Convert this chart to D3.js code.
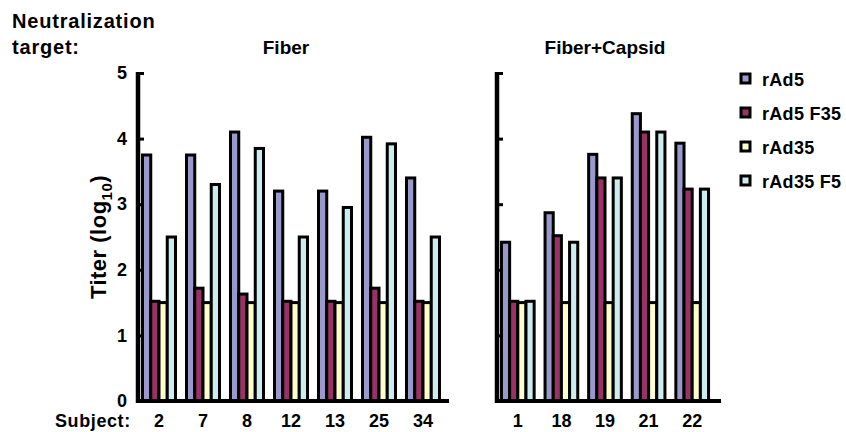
<!DOCTYPE html>
<html>
<head>
<meta charset="utf-8">
<script src="https://cdn.jsdelivr.net/npm/d3@7"></script>
<style>
  body { margin: 0; background: #fff; }
  text { font-family: "Liberation Sans", Arial, sans-serif; font-weight: bold; fill: #000; }
</style>
</head>
<body>
<div id="chart"></div>
<script>
// Neutralizing titers per subject, two panels (Fiber / Fiber+Capsid)

const seriesNames = ["rAd5", "rAd5 F35", "rAd35", "rAd35 F5"];
const seriesColors = ["#9999cc", "#993366", "#ffffcc", "#ccecf0"];

const fiberSubjects = ["2", "7", "8", "12", "13", "25", "34"];
const fiberRAd5    = [3.75, 3.75, 4.1, 3.2, 3.2, 4.02, 3.4];
const fiberRAd5F35 = [1.52, 1.72, 1.63, 1.52, 1.52, 1.72, 1.52];
const fiberRAd35   = [1.5, 1.5, 1.5, 1.5, 1.5, 1.5, 1.5];
const fiberRAd35F5 = [2.5, 3.3, 3.85, 2.5, 2.95, 3.92, 2.5];

const capsidSubjects = ["1", "18", "19", "21", "22"];
const capsidRAd5    = [2.42, 2.87, 3.76, 4.38, 3.93];
const capsidRAd5F35 = [1.52, 2.52, 3.4, 4.1, 3.23];
const capsidRAd35   = [1.5, 1.5, 1.5, 1.5, 1.5];
const capsidRAd35F5 = [1.52, 2.42, 3.4, 4.1, 3.23];

const yTicks = [0, 1, 2, 3, 4, 5];

const W = 846, H = 432;
const svg = d3.select("#chart").append("svg")
  .attr("width", W).attr("height", H);

const y = d3.scaleLinear().domain([0, 5]).range([401, 73]);

const color = d3.scaleOrdinal().domain(seriesNames).range(seriesColors);

function panel(subjects, values, x0, x1, axisEnd, title, titleX, showLabels) {
  const x = d3.scaleBand().domain(subjects).range([x0, x1]).paddingInner(0.25).paddingOuter(0.125);
  const xi = d3.scaleBand().domain(seriesNames).range([0, x.bandwidth()]);

  const rows = subjects.map((s, i) => ({subject: s, vals: seriesNames.map((k, j) => ({key: k, v: values[j][i]}))}));

  const g = svg.append("g");
  g.selectAll("g.grp")
    .data(rows)
    .join("g")
    .attr("class", "grp")
    .attr("transform", d => `translate(${x(d.subject)},0)`)
    .selectAll("rect")
    .data(d => d.vals)
    .join("rect")
    .attr("x", d => xi(d.key))
    .attr("y", d => y(d.v))
    .attr("width", xi.bandwidth())
    .attr("height", d => y(0) - y(d.v))
    .attr("fill", d => color(d.key))
    .attr("stroke", "#000")
    .attr("stroke-width", 3);

  // y axis, ticks pointing inward
  const yAxis = d3.axisLeft(y).tickValues(yTicks).tickSizeInner(-6).tickSizeOuter(0).tickPadding(11)
    .tickFormat(showLabels ? d3.format("d") : "");
  const ya = svg.append("g")
    .attr("transform", `translate(${x0 + 1},0)`)
    .call(yAxis);
  ya.select(".domain").remove();
  ya.selectAll(".tick line").attr("stroke", "#000").attr("stroke-width", 3);
  ya.selectAll(".tick text").style("font-size", "18px").style("font-family", "Liberation Sans, Arial, sans-serif").style("font-weight", "bold");
  svg.append("line")
    .attr("x1", x0 + 1).attr("x2", x0 + 1)
    .attr("y1", y(5) - 1).attr("y2", y(0) + 2)
    .attr("stroke", "#000").attr("stroke-width", 4.5);

  // x axis
  svg.append("line")
    .attr("x1", x0 - 1).attr("x2", axisEnd)
    .attr("y1", y(0)).attr("y2", y(0))
    .attr("stroke", "#000").attr("stroke-width", 4);

  const xa = svg.append("g")
    .attr("transform", `translate(0,${y(0)})`)
    .call(d3.axisBottom(x).tickSize(0).tickPadding(13));
  xa.select(".domain").remove();
  xa.selectAll(".tick text").style("font-size", "18px").style("font-family", "Liberation Sans, Arial, sans-serif").style("font-weight", "bold");

  svg.append("text")
    .attr("x", titleX).attr("y", 54)
    .attr("text-anchor", "middle")
    .style("font-size", "19px")
    .text(title);
}

panel(fiberSubjects, [fiberRAd5, fiberRAd5F35, fiberRAd35, fiberRAd35F5], 137, 445, 449, "Fiber", 286, true);
panel(capsidSubjects, [capsidRAd5, capsidRAd5F35, capsidRAd35, capsidRAd35F5], 496, 714, 721, "Fiber+Capsid", 605, false);

// header texts
svg.append("text").attr("x", 12).attr("y", 28).style("font-size", "20px").style("letter-spacing", "0.8px").text("Neutralization");
svg.append("text").attr("x", 12).attr("y", 54).style("font-size", "20px").style("letter-spacing", "0.8px").text("target:");
svg.append("text").attr("x", 55).attr("y", 427).style("font-size", "18px").style("letter-spacing", "0.6px").text("Subject:");

// y label
const yl = svg.append("text")
  .attr("transform", "translate(106,237) rotate(-90)")
  .attr("text-anchor", "middle")
  .style("font-size", "22px")
  .style("letter-spacing", "0.5px");
yl.append("tspan").text("Titer (log");
yl.append("tspan").attr("dy", 6).style("font-size", "15px").text("10");
yl.append("tspan").attr("dy", -6).text(")");

// legend
const legend = svg.append("g").selectAll("g")
  .data(seriesNames)
  .join("g")
  .attr("transform", (d, i) => `translate(741,${74 + i * 34})`);
legend.append("rect")
  .attr("width", 9).attr("height", 9)
  .attr("fill", d => color(d))
  .attr("stroke", "#000").attr("stroke-width", 3);
legend.append("text")
  .attr("x", 21).attr("y", 12)
  .style("font-size", "18px")
  .style("letter-spacing", "0.3px")
  .text(d => d);
</script>
</body>
</html>
